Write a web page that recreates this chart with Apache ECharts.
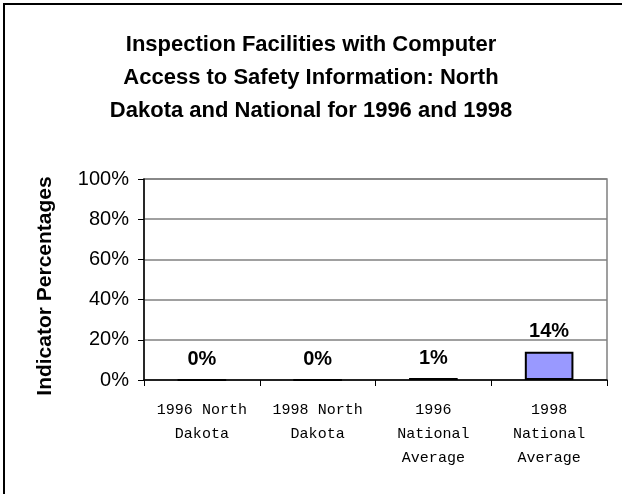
<!DOCTYPE html>
<html>
<head>
<meta charset="utf-8">
<script src="https://cdn.jsdelivr.net/npm/echarts@6/dist/echarts.min.js"></script>
<style>
  html, body { margin: 0; padding: 0; background: #fff; }
  #chart { width: 622px; height: 494px; }
</style>
</head>
<body>
<div id="chart"></div>
<script>
// chart data
var categories = ['1996 North\nDakota', '1998 North\nDakota', '1996\nNational\nAverage', '1998\nNational\nAverage'];
var percentages = [0, 0, 1, 14];
var yTicks = { min: 0, max: 100, step: 20 };

var chart = echarts.init(document.getElementById('chart'), null, { renderer: 'canvas' });

var option = {
  backgroundColor: '#fff',
  animation: false,
  title: {
    text: 'Inspection Facilities with Computer\nAccess to Safety Information: North\nDakota and National for 1996 and 1998',
    left: 'center',
    top: 23,
    textStyle: {
      fontFamily: 'Liberation Sans, Arial',
      fontWeight: 'bold',
      fontSize: 22,
      lineHeight: 33,
      color: '#000'
    }
  },
  graphic: [{
    // outer frame, only left and top edges fall inside the window
    type: 'rect',
    shape: { x: 4, y: 4, width: 700, height: 600 },
    style: { fill: 'none', stroke: '#000', lineWidth: 2 },
    silent: true
  }, {
    // y axis title
    type: 'text',
    x: 45,
    y: 286,
    rotation: Math.PI / 2,
    style: {
      text: 'Indicator Percentages',
      fontFamily: 'Liberation Sans, Arial',
      fontWeight: 'bold',
      fontSize: 21,
      fill: '#000',
      align: 'center',
      verticalAlign: 'middle'
    },
    silent: true
  }],
  grid: {
    left: 144,
    right: 15,
    top: 179,
    bottom: 114,
    show: true,
    borderColor: '#808080',
    borderWidth: 1.5
  },
  xAxis: {
    type: 'category',
    data: categories,
    axisLine: { lineStyle: { color: '#000', width: 1.5 } },
    axisTick: { show: true, length: 6, alignWithLabel: false, lineStyle: { color: '#000' } },
    axisLabel: {
      interval: 0,
      margin: 18,
      fontFamily: 'Liberation Mono, Courier New, monospace',
      fontSize: 15,
      lineHeight: 24,
      color: '#000'
    }
  },
  yAxis: {
    type: 'value',
    min: yTicks.min,
    max: yTicks.max,
    interval: yTicks.step,
    axisLine: { show: true, lineStyle: { color: '#000', width: 1.5 } },
    axisTick: { show: true, length: 6, lineStyle: { color: '#000' } },
    axisLabel: {
      formatter: '{value}%',
      margin: 15,
      fontFamily: 'Liberation Sans, Arial',
      fontSize: 20,
      color: '#000'
    },
    splitLine: { lineStyle: { color: '#808080', width: 1.5 } }
  },
  series: [{
    type: 'bar',
    data: percentages,
    barWidth: '42%',
    itemStyle: { color: '#9999ff', borderColor: '#000', borderWidth: 2 },
    label: {
      show: true,
      position: 'top',
      distance: 10,
      formatter: '{c}%',
      fontFamily: 'Liberation Sans, Arial',
      fontWeight: 'bold',
      fontSize: 20,
      color: '#000'
    }
  }]
};

chart.setOption(option);
</script>
</body>
</html>
